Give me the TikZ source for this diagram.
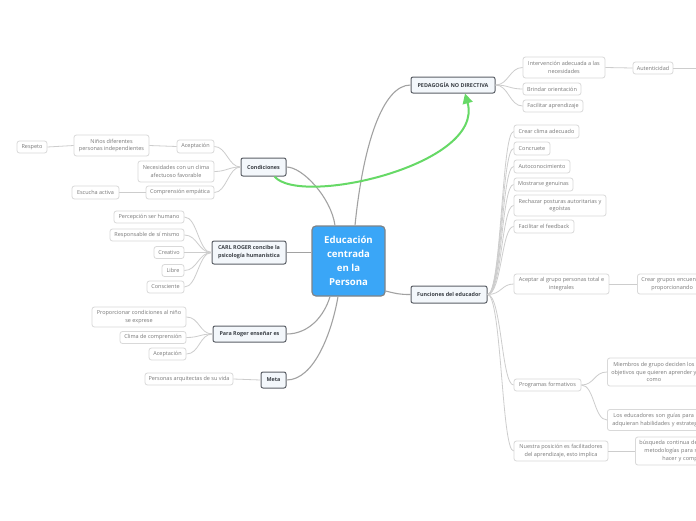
\documentclass[tikz,border=0pt]{standalone}
\usepackage{fontspec}
\setmainfont{Open Sans}
\usetikzlibrary{arrows.meta}
\definecolor{leafborder}{HTML}{D9D9D9}
\definecolor{leaftext}{HTML}{787878}
\definecolor{mainborder}{HTML}{5B5F66}
\definecolor{mainfill}{HTML}{F3F7FB}
\definecolor{maintext}{HTML}{3A3F45}
\definecolor{centerfill}{HTML}{3AA6F7}
\definecolor{centerborder}{HTML}{7F8387}
\definecolor{mainlinec}{HTML}{A2A2A2}
\definecolor{leaflinec}{HTML}{CDCDCD}
\definecolor{relgreen}{HTML}{66D966}
\begin{document}
\begin{tikzpicture}[x=1pt,y=-1pt,
  leaf/.style={draw=leafborder, line width=0.8pt, fill=white, rounded corners=2.5pt,
    inner sep=0pt, align=center, text=leaftext, font=\fontsize{5.5}{7.6}\selectfont},
  mainbox/.style={draw=mainborder, line width=1pt, fill=mainfill, rounded corners=2pt,
    inner sep=0pt, align=center, text=maintext, font=\bfseries\fontsize{5.4}{8}\selectfont},
  centerbox/.style={draw=centerborder, line width=1.2pt, fill=centerfill, rounded corners=4pt,
    inner sep=0pt, align=center, text=white, font=\bfseries\fontsize{9.6}{14}\selectfont},
  mainline/.style={draw=mainlinec, line width=1.1pt},
  leafline/.style={draw=leaflinec, line width=0.8pt},
  relarrow/.style={draw=relgreen, line width=2pt, -{Triangle[length=10pt,width=10pt]}}
]
\useasboundingbox (0,0) rectangle (696,520);
\clip (0,0) rectangle (696,520);
\fill[white] (0,0) rectangle (696,520);

% central node
\node[centerbox, minimum width=73pt, minimum height=70pt] (ctr) at (348.5,261) {Educación\\centrada\\en la\\Persona};

% main nodes
\node[mainbox, minimum width=45pt, minimum height=18pt] (cond) at (263.5,167) {Condiciones};
\node[mainbox, minimum width=84pt, minimum height=16pt] (ped) at (453,85) {PEDAGOGÍA NO DIRECTIVA};
\node[mainbox, minimum width=74pt, minimum height=23pt] (carl) at (249,252.5) {CARL ROGER concibe la\\psicología humanística};
\node[mainbox, minimum width=73pt, minimum height=16pt] (para) at (249.5,334) {Para Roger enseñar es};
\node[mainbox, minimum width=25pt, minimum height=16pt] (meta) at (273.5,380) {Meta};
\node[mainbox, minimum width=76pt, minimum height=17pt] (func) at (449,294.5) {Funciones del educador};

% Condiciones leaves
\node[leaf, minimum width=37pt, minimum height=13pt] (acep1) at (195.5,146.5) {Aceptación};
\node[leaf, minimum width=75pt, minimum height=21pt] (ninos) at (111.5,145.5) {Niños diferentes\\personas independientes};
\node[leaf, minimum width=30pt, minimum height=12pt] (resp) at (32,147) {Respeto};
\node[leaf, minimum width=76pt, minimum height=21pt] (neces) at (176,171.5) {Necesidades con un clima\\afectuoso favorable};
\node[leaf, minimum width=68pt, minimum height=13pt] (compr) at (180,192.5) {Comprensión empática};
\node[leaf, minimum width=47pt, minimum height=13pt] (escu) at (95.5,192.5) {Escucha activa};

% CARL leaves
\node[leaf, minimum width=70pt, minimum height=12pt] (perc) at (149,217) {Percepción ser humano};
\node[leaf, minimum width=74pt, minimum height=12pt] (respo) at (147,235) {Responsable de sí mismo};
\node[leaf, minimum width=30pt, minimum height=12pt] (creat) at (169,252.5) {Creativo};
\node[leaf, minimum width=22pt, minimum height=12pt] (libre) at (173,270.5) {Libre};
\node[leaf, minimum width=37pt, minimum height=12pt] (consc) at (165.5,287) {Consciente};

% Para Roger leaves
\node[leaf, minimum width=94pt, minimum height=20pt] (propo) at (139,317) {Proporcionar condiciones al niño\\se exprese};
\node[leaf, minimum width=66pt, minimum height=12pt] (clima) at (153,337.5) {Clima de comprensión};
\node[leaf, minimum width=37pt, minimum height=12pt] (acep2) at (167.5,354) {Aceptación};

% Meta leaf
\node[leaf, minimum width=88pt, minimum height=12pt] (perso) at (189,379) {Personas arquitectas de su vida};

% PEDAGOGIA leaves
\node[leaf, minimum width=82pt, minimum height=21pt] (interv) at (564,67.5) {Intervención adecuada a las\\necesidades};
\node[leaf, minimum width=40pt, minimum height=12pt] (autent) at (653,68) {Autenticidad};
\coordinate (autnext) at (710,68);
\node[leaf, minimum width=58pt, minimum height=12pt] (brind) at (552,89) {Brindar orientación};
\node[leaf, minimum width=60pt, minimum height=12pt] (facap) at (553,106) {Facilitar aprendizaje};

% Funciones leaves
\node[leaf, minimum width=65pt, minimum height=13pt] (crear) at (546.5,131.5) {Crear clima adecuado};
\node[leaf, minimum width=36pt, minimum height=13pt] (concr) at (532,148.5) {Concruete};
\node[leaf, minimum width=56pt, minimum height=13pt] (autoc) at (542,166.5) {Autoconocimiento};
\node[leaf, minimum width=59pt, minimum height=13pt] (mostr) at (543.5,184.5) {Mostrarse genuinas};
\node[leaf, minimum width=92pt, minimum height=21pt] (recha) at (560,205.5) {Rechazar posturas autoritarias y\\egoístas};
\node[leaf, minimum width=60pt, minimum height=13pt] (feedb) at (544,226.5) {Facilitar el feedback};
\node[leaf, minimum width=95pt, minimum height=20pt] (acept) at (561.5,284) {Aceptar al grupo personas total e\\integrales};
\node[leaf, anchor=west, text width=75pt, align=left, minimum height=20pt] (grupos) at (637,284) {\hspace*{4pt}Crear grupos encuentro\\\hspace*{14pt}proporcionando};
\node[leaf, minimum width=67pt, minimum height=12pt] (progr) at (547.5,385) {Programas formativos};
\node[leaf, anchor=west, minimum width=93pt, minimum height=28pt] (miemb) at (607,372) {Miembros de grupo deciden los\\objetivos que quieren aprender y\\como};
\node[leaf, anchor=west, text width=100pt, align=left, minimum height=21pt] (educ) at (607,420) {\hspace*{6pt}Los educadores son guías para que\\\hspace*{5pt}adquieran habilidades y estrategias};
\node[leaf, minimum width=94pt, minimum height=20pt] (nuest) at (561,451) {Nuestra posición es  facilitadores\\del aprendizaje, esto implica};
\node[leaf, anchor=west, text width=100pt, align=left, minimum height=28pt] (busq) at (635,451) {\hspace*{4pt}búsqueda continua de nuevas\\\hspace*{9pt}metodologías para saber\\\hspace*{27pt}hacer y compartir};

% main connectors
\draw[mainline] (cond.east) .. controls +(16,0) and +(-4,-28) .. ([xshift=-13.5pt]ctr.north);
\draw[mainline] ([xshift=6.5pt]ctr.north) .. controls +(8,-80) and +(-28,0) .. (ped.west);
\draw[mainline] ([yshift=-30pt]ctr.east) .. controls +(12,3) and +(-10,0) .. (func.west);
\draw[mainline] (carl.east) -- (ctr.west |- carl.east);
\draw[mainline] (para.east) .. controls +(22,0) and +(-6,20) .. ([xshift=-18.5pt]ctr.south);
\draw[mainline] (meta.east) .. controls +(28,0) and +(-6,35) .. ([xshift=-10.5pt]ctr.south);

% leaf connectors
\foreach \c in {acep1,neces,compr}
  \draw[leafline] (cond.west) .. controls +(-12,0) and +(12,0) .. (\c.east);
\draw[leafline] (acep1.west) -- (ninos.east);
\draw[leafline] (ninos.west) -- (resp.east);
\draw[leafline] (compr.west) -- (escu.east);
\foreach \c in {perc,respo,creat,libre,consc}
  \draw[leafline] (carl.west) .. controls +(-13,0) and +(13,0) .. (\c.east);
\foreach \c in {propo,clima,acep2}
  \draw[leafline] (para.west) .. controls +(-13,0) and +(13,0) .. (\c.east);
\draw[leafline] (meta.west) -- (perso.east);
\foreach \c in {interv,brind,facap}
  \draw[leafline] (ped.east) .. controls +(13,0) and +(-13,0) .. (\c.west);
\draw[leafline] (interv.east) -- (autent.west);
\draw[leafline] (autent.east) -- (autnext);
\foreach \c in {crear,concr,autoc,mostr,recha,feedb,acept,progr,nuest}
  \draw[leafline] (func.east) .. controls +(14,0) and +(-12,0) .. (\c.west);
\draw[leafline] (acept.east) -- (grupos.west);
\foreach \c in {miemb,educ}
  \draw[leafline] (progr.east) .. controls +(13,0) and +(-13,0) .. (\c.west);
\draw[leafline] (nuest.east) -- (busq.west);

% redraw nodes on top of connectors
\begin{scope}
\end{scope}

% relation arrow
\draw[relarrow] ([xshift=11pt]cond.south) .. controls (300,207) and (485,165) .. ([xshift=12pt]ped.south);
\end{tikzpicture}
\end{document}
